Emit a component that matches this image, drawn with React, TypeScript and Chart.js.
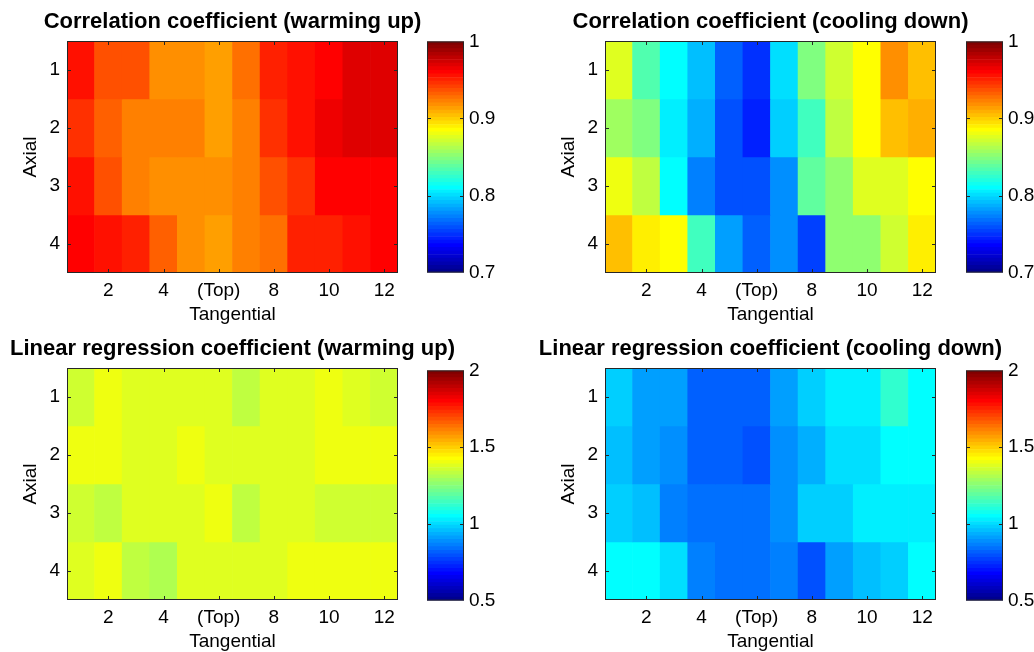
import React, { useEffect, useRef } from 'react';
import { Chart, registerables } from 'chart.js';

Chart.register(...registerables);

// ---------------- data ----------------
const tangentialCategories = ['1', '2', '3', '4', '5', '6', '7', '8', '9', '10', '11', '12'];
const tangentialTickLabels = ['', '2', '', '4', '', '(Top)', '', '8', '', '10', '', '12'];
const axialRows = [1, 2, 3, 4];

const corrWarming = [
  [0.955, 0.937, 0.937, 0.918, 0.917, 0.913, 0.927, 0.950, 0.955, 0.960, 0.969, 0.969],
  [0.946, 0.932, 0.922, 0.922, 0.922, 0.913, 0.922, 0.946, 0.955, 0.965, 0.968, 0.969],
  [0.955, 0.937, 0.921, 0.920, 0.919, 0.919, 0.921, 0.935, 0.948, 0.960, 0.960, 0.960],
  [0.960, 0.955, 0.952, 0.931, 0.920, 0.913, 0.921, 0.925, 0.950, 0.951, 0.954, 0.958],
];

const corrCooling = [
  [0.876, 0.835, 0.811, 0.790, 0.764, 0.749, 0.801, 0.846, 0.8725, 0.885, 0.9175, 0.9025],
  [0.8575, 0.846, 0.805, 0.786, 0.760, 0.745, 0.7975, 0.831, 0.865, 0.8875, 0.9025, 0.910],
  [0.8825, 0.865, 0.810, 0.771, 0.760, 0.760, 0.779, 0.8375, 0.850, 0.876, 0.876, 0.885],
  [0.905, 0.892, 0.886, 0.8275, 0.7825, 0.764, 0.775, 0.756, 0.850, 0.8525, 0.8725, 0.888],
];

const regWarming = [
  [1.355, 1.395, 1.380, 1.380, 1.380, 1.380, 1.335, 1.385, 1.385, 1.400, 1.385, 1.355],
  [1.395, 1.395, 1.380, 1.380, 1.395, 1.380, 1.380, 1.380, 1.380, 1.400, 1.395, 1.410],
  [1.360, 1.335, 1.375, 1.375, 1.375, 1.400, 1.340, 1.390, 1.390, 1.360, 1.360, 1.360],
  [1.385, 1.410, 1.340, 1.310, 1.385, 1.380, 1.380, 1.375, 1.395, 1.395, 1.395, 1.395],
];

const regCooling = [
  [0.969, 0.9125, 0.9125, 0.819, 0.819, 0.810, 0.9125, 0.969, 1.0175, 1.025, 1.119, 1.044],
  [0.950, 0.9125, 0.875, 0.819, 0.819, 0.800, 0.875, 0.931, 1.006, 1.006, 1.060, 1.060],
  [0.969, 0.950, 0.856, 0.830, 0.830, 0.830, 0.875, 0.969, 0.969, 1.025, 1.025, 1.025],
  [1.050, 1.044, 1.006, 0.856, 0.8375, 0.8375, 0.856, 0.7925, 0.9125, 0.950, 0.9875, 1.044],
];

const corrRange = [0.7, 1];
const corrTicks = [0.7, 0.8, 0.9, 1];
const corrTickLabels = ['0.7', '0.8', '0.9', '1'];
const regRange = [0.5, 2];
const regTicks = [0.5, 1, 1.5, 2];
const regTickLabels = ['0.5', '1', '1.5', '2'];

// ---------------- styling ----------------
const FONT_FAMILY = '"Liberation Sans", Arial, Helvetica, sans-serif';
const TEXT = '#000000';
const FRAME = '#262626';
const LEVELS = 64;
const LABEL_SIZE = 19;

// MATLAB jet(64)
function jetColor(idx: number): string {
  const i = idx + 1;
  const u = (k: number) => (k < 1 || k > 47 ? 0 : k <= 16 ? k / 16 : k <= 31 ? 1 : (48 - k) / 16);
  const r = i >= 25 ? u(i - 24) : 0;
  const g = i >= 9 && i <= 55 ? u(i - 8) : 0;
  const b = i <= 39 ? u(i + 8) : 0;
  return `rgb(${Math.round(r * 255)},${Math.round(g * 255)},${Math.round(b * 255)})`;
}

function valueColor(v: number, min: number, max: number): string {
  let k = Math.floor(((v - min) / (max - min)) * LEVELS);
  if (k < 0) k = 0;
  if (k > LEVELS - 1) k = LEVELS - 1;
  return jetColor(k);
}

const frameTicksPlugin = {
  id: 'frameTicks',
  afterDatasetsDraw(chart: any, _args: any, opts: any) {
    const { ctx, chartArea: a } = chart;
    const len = 4;
    ctx.save();
    ctx.strokeStyle = FRAME;
    ctx.lineWidth = 1;
    ctx.beginPath();
    const xs: number[] = (opts && opts.xValues) || [];
    const ys: number[] = (opts && opts.yValues) || [];
    xs.forEach((v) => {
      const px = Math.round(chart.scales.x.getPixelForValue(v)) + 0.5;
      ctx.moveTo(px, a.top);
      ctx.lineTo(px, a.top + len);
      ctx.moveTo(px, a.bottom);
      ctx.lineTo(px, a.bottom - len);
    });
    ys.forEach((v) => {
      const py = Math.round(chart.scales.y.getPixelForValue(v)) + 0.5;
      ctx.moveTo(a.left, py);
      ctx.lineTo(a.left + len, py);
      ctx.moveTo(a.right, py);
      ctx.lineTo(a.right - len, py);
    });
    ctx.stroke();
    ctx.strokeRect(a.left + 0.5, a.top + 0.5, a.right - a.left - 1, a.bottom - a.top - 1);
    ctx.restore();
  },
};

type HeatProps = {
  title: string;
  values: number[][];
  range: number[];
  plotLeft: number;
  plotTop: number;
  plotHeight: number;
};

const PLOT_W = 331;
const AXIS_W = 100;
const TITLE_H = 41;
const XAXIS_H = 53;

function HeatMap({ title, values, range, plotLeft, plotTop, plotHeight }: HeatProps) {
  const ref = useRef<HTMLCanvasElement | null>(null);
  const W = AXIS_W * 2 + PLOT_W;
  const H = TITLE_H + plotHeight + XAXIS_H;
  useEffect(() => {
    if (!ref.current) return;
    const font = { family: FONT_FAMILY, size: LABEL_SIZE };
    const chart = new Chart(ref.current, {
      type: 'bar',
      data: {
        labels: tangentialCategories,
        datasets: axialRows.map((row, ri) => ({
          data: values[ri].map(() => [row - 0.5, row + 0.5]),
          backgroundColor: values[ri].map((v) => valueColor(v, range[0], range[1])),
          borderWidth: 0,
          grouped: false,
          barPercentage: 1,
          categoryPercentage: 1,
        })),
      } as any,
      options: {
        responsive: false,
        animation: false,
        devicePixelRatio: 1,
        layout: { padding: 0 },
        plugins: {
          legend: { display: false },
          tooltip: { enabled: false },
          title: {
            display: true,
            text: title,
            color: TEXT,
            font: { family: FONT_FAMILY, size: 22, weight: 'bold' },
            padding: { top: 9, bottom: 5.6 },
          },
          frameTicks: {
            xValues: tangentialTickLabels.map((l, i) => (l ? i : -1)).filter((i) => i >= 0),
            yValues: axialRows,
          },
        } as any,
        scales: {
          x: {
            type: 'category',
            grid: { display: false, drawTicks: false },
            border: { display: false },
            ticks: {
              autoSkip: false,
              maxRotation: 0,
              padding: 6,
              color: TEXT,
              font,
              callback: (_v: any, i: number) => tangentialTickLabels[i],
            },
            title: { display: true, text: 'Tangential', color: TEXT, font, padding: { top: 0, bottom: 0 } },
            afterFit: (s: any) => {
              s.height = XAXIS_H;
            },
          },
          y: {
            type: 'linear',
            min: 0.5,
            max: 4.5,
            reverse: true,
            grid: { display: false, drawTicks: false },
            border: { display: false },
            afterBuildTicks: (s: any) => {
              s.ticks = axialRows.map((v) => ({ value: v }));
            },
            ticks: { padding: 7, color: TEXT, font, callback: (v: any) => String(v) },
            title: { display: true, text: 'Axial', color: TEXT, font, padding: { top: 52, bottom: 0 } },
            afterFit: (s: any) => {
              s.width = AXIS_W;
            },
          },
          y2: {
            type: 'linear',
            position: 'right',
            grid: { display: false, drawTicks: false },
            border: { display: false },
            ticks: { display: false },
            afterFit: (s: any) => {
              s.width = AXIS_W;
            },
          },
        } as any,
      },
      plugins: [frameTicksPlugin],
    });
    return () => chart.destroy();
  }, [title, values, range, plotHeight]);
  return (
    <canvas
      ref={ref}
      width={W}
      height={H}
      style={{ position: 'absolute', left: plotLeft - AXIS_W, top: plotTop - TITLE_H, width: W, height: H, display: 'block' }}
    />
  );
}

type BarProps = {
  range: number[];
  ticks: number[];
  tickLabels: string[];
  left: number;
  top: number;
  height: number;
};

const CB_PAD_L = 10;
const CB_PAD_V = 14;
const CB_W = 37;
const CB_AXIS_W = 50;

function ColorBar({ range, ticks, tickLabels, left, top, height }: BarProps) {
  const ref = useRef<HTMLCanvasElement | null>(null);
  const W = CB_PAD_L + CB_W + CB_AXIS_W;
  const H = height + CB_PAD_V * 2;
  useEffect(() => {
    if (!ref.current) return;
    const [min, max] = range;
    const step = (max - min) / LEVELS;
    const levels = Array.from({ length: LEVELS }, (_, k) => k);
    const font = { family: FONT_FAMILY, size: LABEL_SIZE };
    const chart = new Chart(ref.current, {
      type: 'bar',
      data: {
        labels: ['colorbar'],
        datasets: levels.map((k) => ({
          data: [[min + k * step, min + (k + 1) * step]],
          backgroundColor: jetColor(k),
          borderWidth: 0,
          grouped: false,
          barPercentage: 1,
          categoryPercentage: 1,
        })),
      } as any,
      options: {
        responsive: false,
        animation: false,
        devicePixelRatio: 1,
        layout: { padding: { left: CB_PAD_L, right: 0, top: CB_PAD_V, bottom: CB_PAD_V } },
        plugins: {
          legend: { display: false },
          tooltip: { enabled: false },
          title: { display: false },
          frameTicks: { xValues: [], yValues: ticks.slice(1, -1) },
        } as any,
        scales: {
          x: { display: false },
          y: {
            type: 'linear',
            position: 'right',
            min,
            max,
            grid: { display: false, drawTicks: false },
            border: { display: false },
            afterBuildTicks: (s: any) => {
              s.ticks = ticks.map((v) => ({ value: v }));
            },
            ticks: {
              padding: 5,
              color: TEXT,
              font,
              callback: (v: any) => {
                const i = ticks.findIndex((t) => Math.abs(t - v) < 1e-9);
                return i >= 0 ? tickLabels[i] : '';
              },
            },
            afterFit: (s: any) => {
              s.width = CB_AXIS_W;
            },
          },
        } as any,
      },
      plugins: [frameTicksPlugin],
    });
    return () => chart.destroy();
  }, [range, ticks, tickLabels, height]);
  return (
    <canvas
      ref={ref}
      width={W}
      height={H}
      style={{ position: 'absolute', left: left - CB_PAD_L, top: top - CB_PAD_V, width: W, height: H, display: 'block' }}
    />
  );
}

export default function App() {
  return (
    <div
      style={{
        position: 'fixed',
        left: 0,
        top: 0,
        width: 1034,
        height: 652,
        background: '#ffffff',
        overflow: 'hidden',
      }}
    >
      <HeatMap title="Correlation coefficient (warming up)" values={corrWarming} range={corrRange} plotLeft={67} plotTop={41} plotHeight={232} />
      <ColorBar range={corrRange} ticks={corrTicks} tickLabels={corrTickLabels} left={427} top={39} height={236} />

      <HeatMap title="Correlation coefficient (cooling down)" values={corrCooling} range={corrRange} plotLeft={605} plotTop={41} plotHeight={232} />
      <ColorBar range={corrRange} ticks={corrTicks} tickLabels={corrTickLabels} left={966} top={39} height={236} />

      <HeatMap title="Linear regression coefficient (warming up)" values={regWarming} range={regRange} plotLeft={67} plotTop={368} plotHeight={232} />
      <ColorBar range={regRange} ticks={regTicks} tickLabels={regTickLabels} left={427} top={368} height={235} />

      <HeatMap title="Linear regression coefficient (cooling down)" values={regCooling} range={regRange} plotLeft={605} plotTop={368} plotHeight={232} />
      <ColorBar range={regRange} ticks={regTicks} tickLabels={regTickLabels} left={966} top={368} height={235} />
    </div>
  );
}
